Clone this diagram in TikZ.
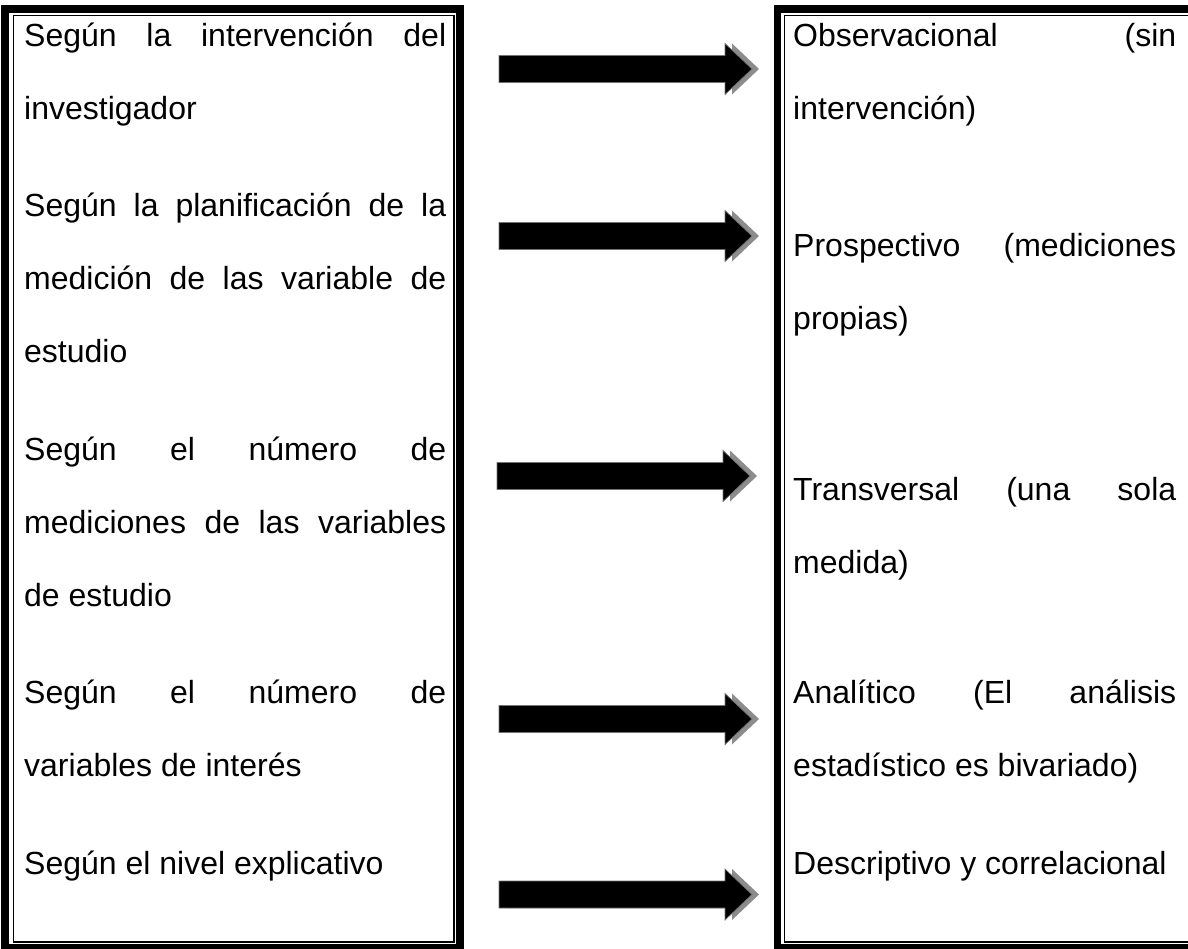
\documentclass[tikz,border=0pt]{standalone}
\usepackage{fontspec}
\setmainfont{Liberation Sans}
\newcommand\jline[2]{\makebox[#1][s]{#2}}
\tikzset{
  txt/.style={anchor=base west, inner sep=0pt, font=\fontsize{32}{38}\selectfont},
  thickrule/.style={line width=7.5pt, draw=black},
  thinrule/.style={line width=1.6pt, draw=black},
  pics/blockarrow/.style={code={
    \fill[black!45] (7,-13.5) -- (233,-13.5) -- (233,-25.5) -- (260,0) -- (233,25.5) -- (233,13.5) -- (7,13.5) -- cycle;
    \fill[black, draw=black!55, line width=0.7pt] (0,-13.5) -- (226,-13.5) -- (226,-25.5) -- (253,0) -- (226,25.5) -- (226,13.5) -- (0,13.5) -- cycle;
  }}
}
\begin{document}
\begin{tikzpicture}[x=1pt,y=-1pt]
\useasboundingbox (0,0) rectangle (1188,948);
\clip (0,0) rectangle (1188,948);
% left box
\draw[thickrule] (5,8.8) rectangle (460,947.5);
\draw[thinrule] (13.3,15.5) rectangle (453.8,941.8);
% right box
\draw[thickrule] (777.5,8.8) rectangle (1210,947.5);
\draw[thinrule] (784.5,15.5) rectangle (1200,941.8);
% left texts
\node[txt] (l1) at (24,46) {\jline{422pt}{Según la intervención del}};
\node[txt] (l2) at (24,119) {investigador};
\node[txt] (l3) at (24,216.5) {\jline{422pt}{Según la planificación de la}};
\node[txt] (l4) at (24,289.5) {\jline{422pt}{medición de las variable de}};
\node[txt] (l5) at (24,362.5) {estudio};
\node[txt] (l6) at (24,460) {\jline{422pt}{Según el número de}};
\node[txt] (l7) at (24,533) {\jline{422pt}{mediciones de las variables}};
\node[txt] (l8) at (24,606) {de estudio};
\node[txt] (l9) at (24,703.5) {\jline{422pt}{Según el número de}};
\node[txt] (l10) at (24,776.5) {variables de interés};
\node[txt] (l11) at (24,874) {Según el nivel explicativo};
% right texts
\node[txt] (r1) at (793,46) {\jline{383pt}{Observacional (sin}};
\node[txt] (r2) at (793,119) {intervención)};
\node[txt] (r3) at (793,256) {\jline{383pt}{Prospectivo (mediciones}};
\node[txt] (r4) at (793,329) {propias)};
\node[txt] (r5) at (793,500) {\jline{383pt}{Transversal (una sola}};
\node[txt] (r6) at (793,573) {medida)};
\node[txt] (r7) at (793,703.5) {\jline{383pt}{Analítico (El análisis}};
\node[txt] (r8) at (793,776.5) {estadístico es bivariado)};
\node[txt] (r9) at (793,874) {Descriptivo y correlacional};
% arrows
\pic (a1) at (499,69) {blockarrow};
\pic (a2) at (499,236) {blockarrow};
\pic (a3) at (497,476) {blockarrow};
\pic (a4) at (499,719) {blockarrow};
\pic (a5) at (499,894.5) {blockarrow};
\end{tikzpicture}
\end{document}
